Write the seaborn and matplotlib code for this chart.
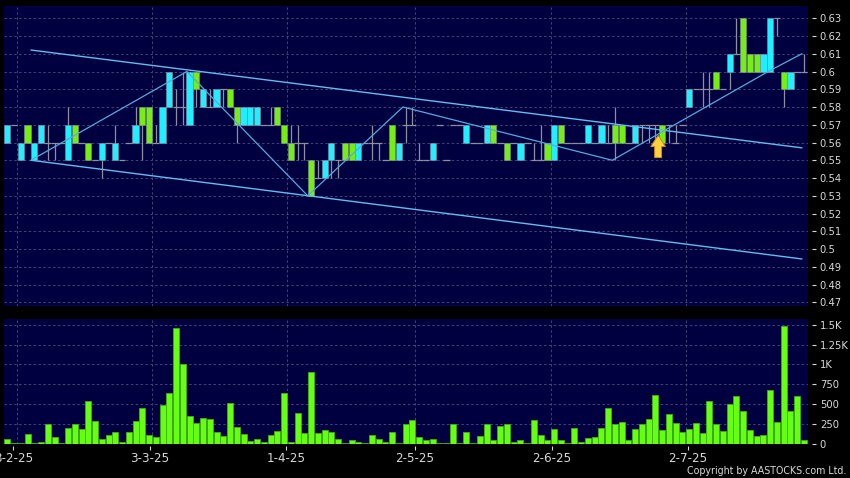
import matplotlib
matplotlib.use('Agg')
import matplotlib.pyplot as plt
import numpy as np
import seaborn as sns

# per-day price data, body top/bottom equal means a flat day
body_top = [.57,.57,.56,.57,.56,.57,.56,.56,.56,.57, .57,.56,.56,.55,.56,.56,.56,.55,.56,.57,
            .58,.58,.56,.58,.60,.58,.58,.60,.60,.59, .58,.59,.59,.59,.58,.58,.58,.58,.57,.57,
            .58,.57,.56,.56,.56,.55,.54,.55,.56,.55, .56,.56,.56,.56,.56,.56,.55,.57,.56,.57,
            .57,.55,.55,.56,.57,.55,.57,.57,.57,.56, .56,.57,.57,.56,.56,.56,.56,.56,.55,.55,
            .56,.57,.57,.56,.56,.56,.57,.56,.57,.56, .57,.57,.56,.57,.57,.57,.57,.57,.57,.56,
            .57,.59,.59,.59,.59,.60,.59,.61,.61,.63, .61,.61,.61,.63,.63,.60,.60,.60,.60]
body_bot = [.56,.57,.55,.56,.55,.56,.56,.56,.56,.55, .56,.56,.55,.55,.55,.56,.55,.55,.56,.56,
            .57,.56,.56,.56,.58,.58,.58,.57,.59,.58, .58,.58,.59,.58,.57,.57,.57,.57,.57,.57,
            .57,.56,.55,.56,.56,.53,.54,.54,.55,.55, .55,.55,.55,.56,.56,.56,.55,.55,.55,.57,
            .57,.55,.55,.55,.57,.55,.57,.57,.56,.56, .56,.56,.56,.56,.55,.56,.55,.56,.55,.55,
            .55,.55,.56,.56,.56,.56,.56,.56,.56,.56, .56,.56,.56,.56,.57,.57,.57,.56,.57,.56,
            .57,.58,.59,.59,.59,.59,.59,.60,.61,.60, .60,.60,.60,.60,.63,.59,.59,.60,.60]
highs = [.57,.57,.56,.57,.56,.57,.57,.56,.56,.58, .57,.56,.56,.55,.56,.56,.57,.55,.56,.58,
         .58,.58,.57,.58,.60,.59,.60,.60,.60,.59, .59,.59,.59,.59,.58,.58,.58,.58,.57,.58,
         .58,.57,.57,.57,.56,.55,.55,.55,.56,.55, .56,.56,.56,.56,.57,.56,.55,.57,.56,.58,
         .58,.56,.55,.56,.57,.55,.57,.57,.57,.56, .56,.57,.57,.56,.56,.56,.56,.56,.56,.57,
         .56,.57,.57,.56,.56,.56,.57,.56,.57,.57, .58,.57,.56,.57,.57,.57,.57,.57,.57,.57,
         .57,.59,.59,.60,.60,.60,.59,.61,.63,.63, .61,.61,.61,.63,.63,.60,.60,.60,.61]
lows = [.56,.57,.55,.56,.55,.56,.55,.55,.56,.55, .56,.56,.55,.55,.54,.56,.55,.55,.56,.56,
        .55,.56,.56,.56,.58,.57,.57,.57,.58,.58, .58,.58,.58,.58,.56,.57,.57,.57,.57,.57,
        .57,.56,.55,.55,.55,.53,.54,.54,.54,.54, .55,.55,.55,.56,.55,.55,.55,.55,.55,.56,
        .57,.55,.55,.55,.57,.55,.57,.57,.56,.56, .56,.56,.56,.56,.55,.56,.55,.56,.55,.55,
        .55,.55,.56,.56,.56,.56,.56,.56,.56,.56, .55,.56,.56,.56,.56,.56,.56,.56,.56,.56,
        .57,.58,.59,.58,.58,.59,.59,.59,.61,.60, .60,.60,.60,.60,.62,.58,.59,.60,.60]
# c = cyan, g = green, d = flat
day_kind = ['c','d','c','g','c','c','d','d','d','c', 'g','d','g','d','c','d','c','d','d','c',
            'g','g','d','c','c','d','d','c','g','c', 'd','c','d','g','g','c','c','c','d','d',
            'g','g','g','d','d','g','d','c','c','d', 'g','g','c','d','d','d','d','g','c','d',
            'd','d','d','c','d','d','d','d','c','d', 'd','c','g','d','g','d','c','d','d','d',
            'g','c','g','d','d','d','c','d','c','d', 'g','g','d','c','d','d','d','g','d','d',
            'd','c','d','d','d','g','d','c','d','g', 'g','g','c','c','d','g','c','d','d']
volume = [60,12,5,122,12,20,252,80,12,200, 240,185,538,290,63,113,147,17,139,290,
          454,105,88,491,638,1453,1000,344,260,328, 307,143,92,508,206,118,34,63,17,113,
          164,643,25,386,130,903,130,168,143,55, 2,38,25,12,113,55,17,143,8,252,
          294,76,38,63,12,2,240,12,139,12, 100,252,38,218,240,25,50,12,298,113,
          38,189,46,12,197,17,67,80,193,454, 248,269,46,181,244,311,613,168,374,256,
          143,181,265,130,533,248,155,504,605,412, 172,100,105,676,269,1487,407,596,42]

date_labels = ['3-2-25', '3-3-25', '1-4-25', '2-5-25', '2-6-25', '2-7-25']
date_ticks = [0.9, 21.1, 41.3, 60.4, 80.7, 100.8]
date_grid = [1.44, 21.5, 41.4, 60.4, 80.5, 100.5]
price_ticks = [.47,.48,.49,.50,.51,.52,.53,.54,.55,.56,.57,.58,.59,.60,.61,.62,.63]
vol_ticks = [0, 250, 500, 750, 1000, 1250, 1500]
vol_labels = ['0', '250', '500', '750', '1K', '1.25K', '1.5K']

# trend lines drawn on the chart
swing_x = [3.5, 26.6, 44.5, 58.6, 89.6, 112.7, 117.7]
swing_y = [.55, .60, .53, .58, .55, .60, .61]
upper_x = [3.5, 117.7]
upper_y = [.6121, .5570]
lower_x = [3.5, 117.7]
lower_y = [.55, .4944]
arrow_x = 96.4
arrow_tip = .5640
arrow_base = .5515

BG = '#000000'
PANEL = '#000040'
GRID = '#444476'
TEXT = '#d8d8d8'
CYAN = '#22eeff'
GREEN = '#77ee11'
WICK = '#8f8f9f'
LINE = '#55aadd'
DASH = (0, (2.5, 2.5))

sns.set_theme(style='dark', rc={'figure.facecolor': BG, 'axes.facecolor': PANEL, 'savefig.facecolor': BG})

W, H = 850, 478
fig = plt.figure(figsize=(W / 100, H / 100), dpi=100)
ax = fig.add_axes([4 / W, 1 - 306 / H, 804 / W, 300 / H])
ax_vol = fig.add_axes([4 / W, 1 - 443.5 / H, 804 / W, 124.5 / H])

idx = np.arange(len(volume))
top = np.array(body_top)
bot = np.array(body_bot)
colors = {'c': CYAN, 'g': GREEN, 'd': PANEL}

# 1. Price panel
ax.vlines(idx, lows, highs, color=WICK, lw=0.9, zorder=2)
flat = np.array([k == 'd' for k in day_kind])
ax.hlines(top[flat], idx[flat] - 0.5, idx[flat] + 0.5, color=WICK, lw=0.9, zorder=2)
sns.barplot(x=idx, y=top - bot, bottom=bot, ax=ax, width=0.92, color=CYAN,
            edgecolor='#7f8f9f', linewidth=0.4, zorder=3)
for bar, kind in zip(ax.patches, day_kind):
    bar.set_facecolor(colors[kind])
    if kind == 'd':
        bar.set_visible(False)

ax.plot(upper_x, upper_y, color='#66bbee', lw=1.0, zorder=4)
ax.plot(lower_x, lower_y, color='#66bbee', lw=1.0, zorder=4)
ax.plot(swing_x, swing_y, color=LINE, lw=0.9, zorder=4)
ax.annotate('', xy=(arrow_x, arrow_tip), xytext=(arrow_x, arrow_base), zorder=5,
            arrowprops=dict(facecolor='#ffd040', edgecolor='#d08a1e', lw=0.7,
                            width=5, headwidth=10.5, headlength=8, shrink=0))

ax.set_ylim(.4679, .6369)
ax.set_yticks(price_ticks)
ax.set_yticklabels(['%g' % round(p, 2) for p in price_ticks])
ax.set_xticks([])

# 2. Volume panel
sns.barplot(x=idx, y=volume, ax=ax_vol, width=0.88, color='#66ff11', saturation=1,
            edgecolor='#3fb01a', linewidth=0.6, zorder=3)
ax_vol.set_ylim(0, 1572)
ax_vol.set_yticks(vol_ticks)
ax_vol.set_yticklabels(vol_labels)
ax_vol.set_xticks(date_ticks)
ax_vol.set_xticklabels(date_labels)
ax_vol.hlines(vol_ticks[1:], -0.5, 118.6, color=GRID, lw=0.7, ls=DASH, zorder=1)

for a in (ax, ax_vol):
    a.set_xlim(-0.49, 118.6)
    a.set_xlabel('')
    a.set_ylabel('')
    a.vlines(date_grid, *a.get_ylim(), color=GRID, lw=0.7, ls=DASH, zorder=1)
    for s in a.spines.values():
        s.set_visible(False)
    a.spines['right'].set_position(('outward', 3))
    a.spines['bottom'].set_position(('outward', 2))
    a.yaxis.tick_right()
    a.tick_params(axis='y', length=3, width=0.8, color=TEXT, labelcolor=TEXT, labelsize=7.2, pad=2.5, right=True)
    a.tick_params(axis='x', length=3, width=0.8, color=TEXT, labelcolor=TEXT, labelsize=8.6, pad=1, bottom=True)
ax.hlines(price_ticks, -0.5, 118.6, color=GRID, lw=0.7, ls=DASH, zorder=1)

fig.text(846 / W, 1 - 471 / H, 'Copyright by AASTOCKS.com Ltd.', color=TEXT, fontsize=6.85,
         ha='right', va='center')

fig.savefig('out.png', dpi=100)
